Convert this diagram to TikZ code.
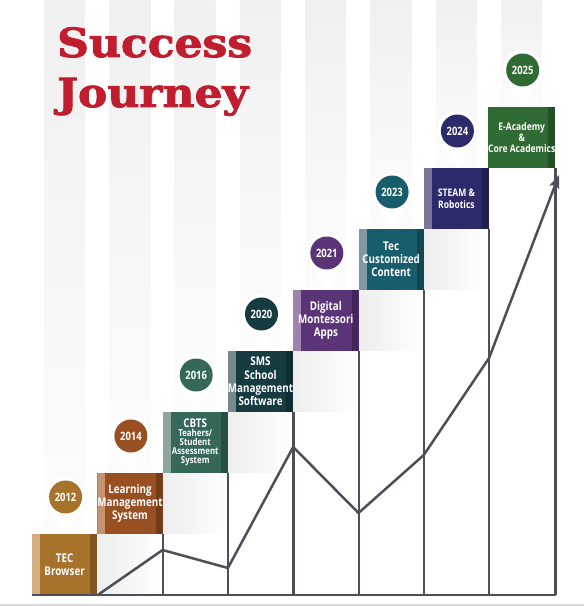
\documentclass[tikz,border=0pt]{standalone}
\usepackage{fontspec}
\usetikzlibrary{arrows.meta}
\newfontfamily\boxfont[FakeStretch=0.82]{Open Sans}
\newfontfamily\titlefont[FakeStretch=1.1,FakeBold=2.2]{DejaVu Serif}

\definecolor{tecC}{HTML}{A7732C}
\definecolor{tecL}{HTML}{D2AE7E}
\definecolor{lmsC}{HTML}{984F22}
\definecolor{lmsL}{HTML}{C69272}
\definecolor{cbtsC}{HTML}{356859}
\definecolor{cbtsL}{HTML}{8FA59F}
\definecolor{smsC}{HTML}{163B41}
\definecolor{smsL}{HTML}{77898C}
\definecolor{digiC}{HTML}{5B3478}
\definecolor{digiL}{HTML}{9C84AE}
\definecolor{tecoC}{HTML}{185D6C}
\definecolor{tecoL}{HTML}{7F99A4}
\definecolor{steamC}{HTML}{2C2A6A}
\definecolor{steamL}{HTML}{7A7598}
\definecolor{acadC}{HTML}{316B34}
\definecolor{lineC}{HTML}{4E4E58}
\definecolor{titleC}{HTML}{C01E2E}

\tikzset{
  stepbox/.style 2 args={fill=#1,minimum width=65.3pt,minimum height=61pt,inner sep=0pt,
    text=white,align=center,
    path picture={
      \fill[#2] (path picture bounding box.south west) rectangle ([xshift=8pt]path picture bounding box.north west);
      \fill[#1!75!black] ([xshift=-7pt]path picture bounding box.south east) rectangle (path picture bounding box.north east);
    }},
  yeardot/.style={circle,fill=#1,minimum size=33pt,inner sep=0pt,text=white,
    font=\boxfont\bfseries\fontsize{11.5}{12}\selectfont},
  titletext/.style={anchor=base west,inner sep=0pt,text=titleC,
    font=\titlefont\bfseries\fontsize{40}{40}\selectfont},
  riser/.style={draw=lineC,line width=2.2pt},
  trail/.style={draw=lineC,line width=2.5pt,line join=round}
}

\begin{document}
\begin{tikzpicture}[x=1pt,y=1pt,>={Stealth[length=13pt,width=10pt,inset=2pt]}]
\useasboundingbox (0,0) rectangle (584,606);

% background stripes
\foreach \i in {0,...,7}
  \shade[top color=black!6,bottom color=black!1] ({44+65.3*\i},606) rectangle ({85+65.3*\i},{72+61*\i});
% soft shade under each step
\foreach \i in {1,...,6}
  \shade[left color=black!7,right color=white] ({32+65.3*\i},{11+61*(\i-1)}) rectangle ({97.3+65.3*\i},{11+61*\i});
\draw[black!15,line width=1.5pt] (0,1) -- (584,1);

% title
\node[titletext] (ttl1) at (57,549) {Success};
\node[titletext] (ttl2) at (57,499) {Journey};

% steps
\foreach \i/\col/\lite/\fs/\bs/\txt in {
  0/tecC/tecL/12/12.7/{TEC\\Browser},
  1/lmsC/lmsL/12/13.3/{Learning\\Management\\System},
  2/cbtsC/cbtsL/9.6/9.1/{{\fontsize{12}{12}\selectfont CBTS}\\Teahers/\\Student\\Assessment\\System},
  3/smsC/smsL/12/13.2/{SMS\\School\\Management\\Software},
  4/digiC/digiL/12/13/{Digital\\Montessori\\Apps},
  5/tecoC/tecoL/12/13/{Tec\\Customized\\Content},
  6/steamC/steamL/10.4/12/{STEAM \&\\Robotics},
  7/acadC/acadC/10.4/11/{E-Academy\\\&\\Core Academics}}
  \node[stepbox={\col}{\lite},font=\boxfont\bfseries\fontsize{\fs}{\bs}\selectfont]
    (b\i) at ({64.65+65.3*\i},{41.5+61*\i}) {\txt};

% year pins
\foreach \i/\col/\yr in {0/tecC/2012,1/lmsC/2014,2/cbtsC/2016,3/smsC/2020,
                         4/digiC/2021,5/tecoC/2023,6/steamC/2024,7/acadC/2025} {
  \coordinate (c\i) at ({65.6+65.3*\i},{109+61*\i});
  \fill[white] (c\i |- b\i.north) -- ([shift={(-16.8,-10.9)}]c\i) -- ([shift={(16.8,-10.9)}]c\i) -- cycle;
  \fill[white] (c\i) circle (20);
  \node[yeardot=\col] (y\i) at (c\i) {\yr};
}

% risers and base
\foreach \i in {1,...,7}
  \draw[riser] (b\i.south east) -- (b\i.south east |- b0.south);
\draw[riser] (b0.south west) -- (b0.south west -| b7.south east);

% growth line
\coordinate (p1) at (162.6,56);
\coordinate (p2) at (227.9,38);
\coordinate (p3) at (293.2,159);
\coordinate (p4) at (358.5,93);
\coordinate (p5) at (423.8,151);
\coordinate (p6) at (489.1,248);
\coordinate (goal) at (559,431);
\draw[trail,->] (b0.south east) -- (p1) -- (p2) -- (p3) -- (p4) -- (p5) -- (p6) -- (goal);
\end{tikzpicture}
\end{document}
